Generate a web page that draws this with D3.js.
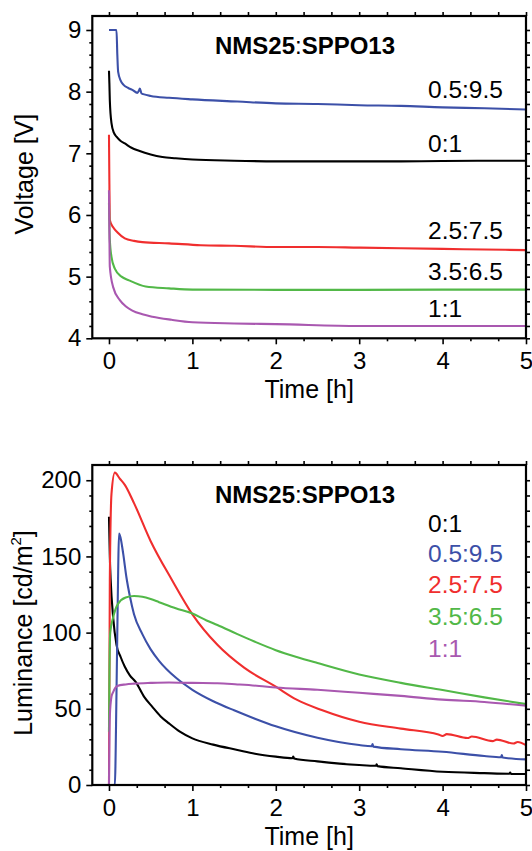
<!DOCTYPE html>
<html>
<head>
<meta charset="utf-8">
<script src="https://cdn.jsdelivr.net/npm/d3@7"></script>
<style>
  html, body { margin: 0; padding: 0; background: #fff; }
  svg { display: block; }
</style>
</head>
<body>
<svg id="chart" width="532" height="851"></svg>
<script>
// ---------------- DATA ----------------
const chartTitle = ["NMS25", ":", "SPPO13"];
const seriesNames = ["0:1", "0.5:9.5", "2.5:7.5", "3.5:6.5", "1:1"];
const seriesColors = ["#000000", "#3c50a8", "#f02e2e", "#52b848", "#a958b0"];

const timeTicks = [0, 1, 2, 3, 4, 5];
const voltTicks = [4, 5, 6, 7, 8, 9];
const lumTicks = [0, 50, 100, 150, 200];

// Voltage [V] vs time [h]
const voltBlack = [[0,8.34],[0.005,8.13],[0.01,7.86],[0.03,7.49],[0.06,7.33],[0.09,7.27],[0.14,7.2],[0.19,7.16],[0.27,7.09],[0.36,7.04],[0.5,6.98],[0.64,6.94],[0.8,6.92],[1,6.9],[1.5,6.88],[2,6.87],[2.5,6.87],[3,6.87],[3.5,6.87],[4,6.875],[4.5,6.88],[5,6.88]];
const voltBlue = [[0,9.0],[0.09,9.0],[0.1,8.6],[0.11,8.32],[0.14,8.18],[0.175,8.11],[0.23,8.06],[0.28,8.03],[0.34,7.98],[0.36,8.02],[0.37,8.05],[0.39,7.97],[0.41,7.96],[0.5,7.93],[0.72,7.9],[1.0,7.875],[1.54,7.84],[2,7.81],[2.5,7.8],[3,7.78],[3.5,7.77],[4,7.745],[4.5,7.73],[5,7.71]];
const voltRed = [[0,7.3],[0.005,6.5],[0.01,5.92],[0.05,5.8],[0.1,5.72],[0.19,5.62],[0.3,5.58],[0.4,5.56],[0.72,5.54],[1.1,5.51],[1.5,5.5],[2,5.48],[2.5,5.48],[3,5.47],[3.5,5.46],[4,5.45],[4.5,5.44],[5,5.43]];
const voltGreen = [[0,6.2],[0.01,5.6],[0.03,5.32],[0.07,5.13],[0.15,5.0],[0.24,4.94],[0.44,4.84],[0.72,4.81],[1,4.79],[2,4.785],[3,4.785],[4,4.79],[5,4.79]];
const voltPurple = [[0,6.4],[0.005,5.7],[0.01,5.16],[0.05,4.83],[0.13,4.62],[0.2,4.52],[0.28,4.45],[0.4,4.39],[0.52,4.35],[0.75,4.3],[1,4.26],[1.5,4.24],[2,4.23],[3,4.2],[4,4.2],[5,4.2]];

// Luminance [cd/m2] vs time [h]
const lumBlack = [[0,176],[0.01,150],[0.02,135],[0.05,110],[0.09,92],[0.14,84],[0.19,77.6],[0.25,72],[0.32,67.7],[0.42,58],[0.52,51.3],[0.62,45],[0.72,40.4],[0.85,35],[1,30.6],[1.25,26.5],[1.54,23],[1.75,20.5],[2,18.6],[2.2,17.6],[2.21,18.6],[2.22,17.4],[2.5,15.5],[3,13.1],[3.2,12.6],[3.21,13.6],[3.22,12.4],[3.5,11],[4,8.7],[4.5,7.8],[4.8,7.4],[4.81,8.2],[4.82,7.3],[5,7.2]];
const lumBlue = [[0,0],[0.07,0],[0.09,60],[0.11,140],[0.12,165],[0.14,162],[0.17,152],[0.21,136],[0.25,124],[0.3,112],[0.4,99],[0.5,89],[0.6,81.5],[0.8,70.5],[1,62.5],[1.25,55],[1.5,49],[1.75,43.5],[2,38.5],[2.5,31],[3,26.2],[3.15,25.4],[3.16,26.8],[3.17,25.2],[3.5,23.5],[4,21.8],[4.5,19],[4.7,18.2],[4.71,19.6],[4.72,18],[5,16.8]];
const lumRed = [[0,0],[0.01,134],[0.03,191],[0.07,205],[0.13,201],[0.19,197],[0.3,185],[0.5,160],[0.75,135],[1.0,112],[1.3,92],[1.62,77],[2,64.5],[2.25,56],[2.55,49.2],[3,41.5],[3.5,37],[3.95,33.2],[4.0,32.2],[4.05,33.4],[4.3,30.8],[4.35,31.8],[4.6,28.8],[4.65,29.8],[4.85,27.2],[4.9,28.2],[5,26.2]];
const lumGreen = [[0,35],[0.005,70],[0.015,100],[0.05,110],[0.11,119],[0.2,123],[0.3,124],[0.4,123.5],[0.5,122],[0.6,120],[0.8,116],[1.0,112.5],[1.17,108],[1.3,105],[1.54,99],[1.75,94],[2.0,88.5],[2.25,84],[2.5,80],[3,72.5],[3.5,67],[4,62.3],[4.5,57.5],[5,53.1]];
const lumPurple = [[0,0],[0.005,30],[0.01,45],[0.03,58],[0.05,61],[0.1,65],[0.2,66],[0.3,66.5],[0.5,67],[0.72,67.3],[1,67],[1.3,66.8],[1.54,66],[1.8,65],[2,64],[2.5,62.5],[3,60.5],[3.5,58.5],[4,56],[4.5,54.5],[5,52]];

const voltSeries = [voltBlack, voltBlue, voltRed, voltGreen, voltPurple];
const lumSeries = [lumBlack, lumBlue, lumRed, lumGreen, lumPurple];
// label order per panel (index into seriesNames)
const voltLabelOrder = [1, 0, 2, 3, 4];
const lumLabelOrder = [0, 1, 2, 3, 4];

// ---------------- LAYOUT ----------------
const FONT = "'Liberation Sans', Arial, Helvetica, sans-serif";
const svg = d3.select("#chart").style("font-family", FONT);

const xLeft = 92.3, xRight = 526;
const x = d3.scaleLinear().domain([-0.2, 5]).range([xLeft, xRight]);
const xMinor = d3.range(0, 16).map(k => k / 3).filter(v => Math.abs(v - Math.round(v)) > 1e-6);

function panel(opts) {
  const { top, bottom, y, majors, minors, series, yTitle, labelYs, labelOrder, titleY, id } = opts;
  const g = svg.append("g");

  g.append("clipPath").attr("id", id).append("rect")
    .attr("x", xLeft).attr("y", top).attr("width", xRight - xLeft).attr("height", bottom - top);

  // data lines
  const line = d3.line().x(d => x(d[0])).y(d => y(d[1])).curve(d3.curveMonotoneX);
  const lines = g.append("g").attr("clip-path", `url(#${id})`);
  series.forEach((s, i) => {
    lines.append("path").datum(s)
      .attr("d", line)
      .attr("fill", "none")
      .attr("stroke", seriesColors[i])
      .attr("stroke-width", 2.1)
      .attr("stroke-linejoin", "round");
  });

  function styleAxis(sel, fs) {
    sel.attr("font-family", FONT).attr("font-size", fs);
    sel.selectAll(".tick line").attr("stroke", "#000").attr("stroke-width", 1.6);
    sel.select(".domain").remove();
    sel.selectAll("text").attr("fill", "#000");
  }

  // bottom axis
  const gb = g.append("g").attr("transform", `translate(0,${bottom})`);
  gb.call(d3.axisBottom(x).tickValues(timeTicks).tickFormat(d3.format("d")).tickSize(6).tickPadding(8).tickSizeOuter(0));
  styleAxis(gb, 24);
  const gbm = g.append("g").attr("transform", `translate(0,${bottom})`);
  gbm.call(d3.axisBottom(x).tickValues(xMinor).tickFormat("").tickSize(3).tickSizeOuter(0));
  styleAxis(gbm, 24);

  // top axis
  const gt = g.append("g").attr("transform", `translate(0,${top})`);
  gt.call(d3.axisTop(x).tickValues(timeTicks.concat(xMinor)).tickFormat("").tickSize(4).tickSizeOuter(0));
  styleAxis(gt, 24);

  // left axis
  const gl = g.append("g").attr("transform", `translate(${xLeft},0)`);
  gl.call(d3.axisLeft(y).tickValues(majors).tickFormat(d3.format("d")).tickSize(6).tickPadding(5).tickSizeOuter(0));
  styleAxis(gl, 24);
  const glm = g.append("g").attr("transform", `translate(${xLeft},0)`);
  glm.call(d3.axisLeft(y).tickValues(minors).tickFormat("").tickSize(3).tickSizeOuter(0));
  styleAxis(glm, 24);

  // right axis
  const gr = g.append("g").attr("transform", `translate(${xRight},0)`);
  gr.call(d3.axisRight(y).tickValues(majors.concat(minors)).tickFormat("").tickSize(4).tickSizeOuter(0));
  styleAxis(gr, 24);

  // frame
  g.append("rect")
    .attr("x", xLeft).attr("y", top)
    .attr("width", xRight - xLeft).attr("height", bottom - top)
    .attr("fill", "none").attr("stroke", "#000").attr("stroke-width", 2.2);

  // title
  const t = g.append("text").attr("x", 305).attr("y", titleY)
    .attr("text-anchor", "middle").attr("font-size", 24).attr("fill", "#000");
  t.append("tspan").attr("font-weight", "bold").text(chartTitle[0]);
  t.append("tspan").text(chartTitle[1]);
  t.append("tspan").attr("font-weight", "bold").text(chartTitle[2]);

  // series labels
  labelOrder.forEach((si, k) => {
    g.append("text").attr("x", 428).attr("y", labelYs[k])
      .attr("font-size", 24.5).attr("fill", opts.coloredLabels ? seriesColors[si] : "#000")
      .text(seriesNames[si]);
  });

  // x title
  g.append("text").attr("x", (xLeft + xRight) / 2).attr("y", bottom + 60)
    .attr("text-anchor", "middle").attr("font-size", 25).attr("fill", "#000")
    .text("Time [h]");

  // y title
  const yt = g.append("text")
    .attr("transform", `translate(${opts.yTitleX},${(top + bottom) / 2 + opts.yTitleDy}) rotate(-90)`)
    .attr("text-anchor", "middle").attr("font-size", 25).attr("fill", "#000");
  yTitle(yt);
}

// Top panel: voltage
const yV = d3.scaleLinear().domain([4, 9.227]).range([338.3, 16]);
panel({
  id: "clipV", top: 16, bottom: 338.3, y: yV,
  majors: voltTicks,
  minors: d3.range(4.2, 9.0, 0.2).filter(v => Math.abs(v - Math.round(v)) > 1e-6),
  series: voltSeries,
  yTitle: t => t.text("Voltage [V]"),
  yTitleX: 33, yTitleDy: -3,
  labelYs: [98.3, 151.7, 239.3, 280, 316.7],
  labelOrder: voltLabelOrder,
  coloredLabels: false,
  titleY: 54
});

// Bottom panel: luminance
const yL = d3.scaleLinear().domain([0, 210]).range([785, 465]);
panel({
  id: "clipL", top: 465, bottom: 785, y: yL,
  majors: lumTicks,
  minors: d3.range(10, 200, 10).filter(v => v % 50 !== 0),
  series: lumSeries,
  yTitle: t => {
    t.append("tspan").text("Luminance [cd/m");
    t.append("tspan").attr("font-size", 15).attr("dy", -11).text("2");
    t.append("tspan").attr("dy", 11).text("]");
  },
  yTitleX: 32, yTitleDy: 8,
  labelYs: [531.7, 562.3, 593.3, 625, 656.7],
  labelOrder: lumLabelOrder,
  coloredLabels: true,
  titleY: 502.7
});
</script>
</body>
</html>
